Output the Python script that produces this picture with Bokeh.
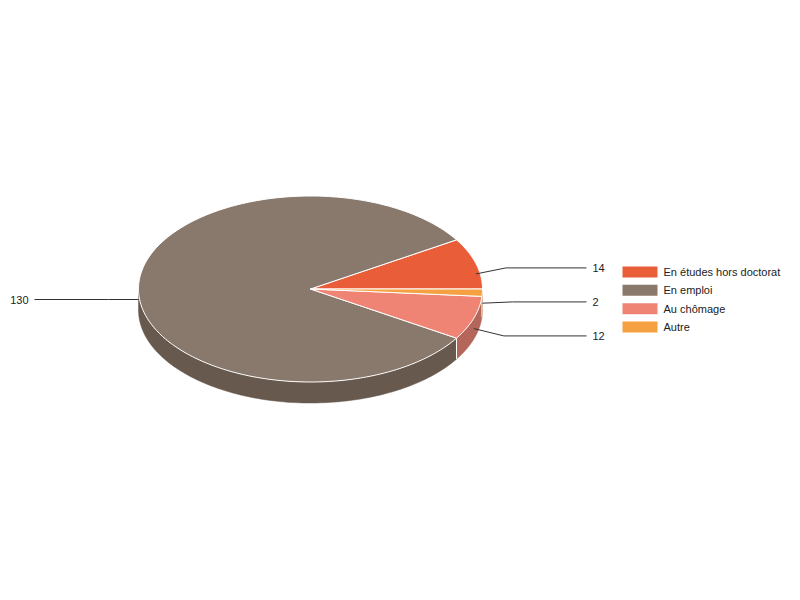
import numpy as np
from bokeh.plotting import figure
from bokeh.models import Range1d, ColumnDataSource
from bokeh.core.properties import value
from bokeh.embed import file_html
from bokeh.resources import INLINE

# ---- data ----
categories = ["En études hors doctorat", "En emploi", "Au chômage", "Autre"]
values = [14, 130, 12, 2]
top_colors = ["#e95e38", "#89796c", "#ef8475", "#f5a142"]
side_colors = ["#a3422a", "#67594e", "#b5665b", "#b57630"]

# ---- layout ----
W, H = 784, 580
CX, CY, RX, RY, DEPTH = 310.0, 288.5, 172.0, 93.0, 21.0
FONT = value("Liberation Sans")
TXT = "#222222"

p = figure(width=W, height=H, x_range=Range1d(0, W), y_range=Range1d(H, 0),
           output_backend="svg", toolbar_location=None, min_border=0,
           x_axis_location=None, y_axis_location=None, outline_line_color=None,
           background_fill_color="white", border_fill_color="white")
p.xgrid.visible = False
p.ygrid.visible = False

vals = np.array(values, dtype=float)
fr = vals / vals.sum()
ends = np.cumsum(fr) * 2 * np.pi
starts = ends - fr * 2 * np.pi


def pt(a, dz=0.0):
    a = np.asarray(a)
    return CX + RX * np.cos(a), CY - RY * np.sin(a) + dz


# sides (front half only: angles pi..2pi)
sx, sy, sc = [], [], []
for s, e, c in zip(starts, ends, side_colors):
    a0, a1 = max(s, np.pi), min(e, 2 * np.pi)
    if a1 > a0:
        t = np.linspace(a0, a1, 120)
        tx, ty = pt(t)
        bx, by = pt(t[::-1], DEPTH)
        sx.append(list(tx) + list(bx))
        sy.append(list(ty) + list(by))
        sc.append(c)
p.patches(sx, sy, fill_color=sc, line_color=sc, line_width=0.5)

# white edges between side segments
ex, ey = [], []
for s in starts:
    if np.pi < s < 2 * np.pi:
        x0, y0 = pt(s)
        x1, y1 = pt(s, DEPTH)
        ex.append([float(x0), float(x1)])
        ey.append([float(y0), float(y1)])
if ex:
    p.multi_line(ex, ey, line_color="white", line_width=1)

# top faces
px, py = [], []
for s, e in zip(starts, ends):
    t = np.linspace(s, e, max(int((e - s) / (2 * np.pi) * 360), 4))
    ax, ay = pt(t)
    px.append([CX] + list(ax))
    py.append([CY] + list(ay))
p.patches(px, py, fill_color=top_colors, line_color="white", line_width=1)

# leader labels
mids = (starts + ends) / 2
anc = [pt(m, DEPTH / 2) for m in mids]
right = [i for i in range(len(values)) if np.cos(mids[i]) >= 0]
left = [i for i in range(len(values)) if np.cos(mids[i]) < 0]


def spread(idx, gap=34.0):
    idx = sorted(idx, key=lambda i: anc[i][1])
    ys = [float(anc[i][1]) for i in idx]
    for _ in range(300):
        for k in range(len(ys) - 1):
            d = ys[k + 1] - ys[k]
            if d < gap:
                sh = (gap - d) / 2
                ys[k] -= sh
                ys[k + 1] += sh
    return dict(zip(idx, ys))


ly = {}
ly.update(spread(right))
ly.update(spread(left))

lx, lyy = [], []
for i in range(len(values)):
    ax, ay = float(anc[i][0]), float(anc[i][1])
    if i in right:
        lx.append([ax, ax + 30, CX + 276])
        p.text([CX + 282], [ly[i]], text=[str(values[i])], text_font=FONT,
               text_font_size="11px", text_color=TXT, text_baseline="middle", text_align="left")
    else:
        lx.append([ax, ax - 30, CX - 276])
        p.text([CX - 282], [ly[i]], text=[str(values[i])], text_font=FONT,
               text_font_size="11px", text_color=TXT, text_baseline="middle", text_align="right")
    lyy.append([ay, ly[i], ly[i]])
p.multi_line(lx, lyy, line_color="#333333", line_width=1)

# legend
LX, LMID, LSTEP = 622, CY + DEPTH / 2, 18.4
rows = [LMID + (k - (len(categories) - 1) / 2) * LSTEP for k in range(len(categories))]
p.rect([LX + 17.5] * len(categories), rows, width=35, height=11, fill_color=top_colors, line_color=None)
p.text([LX + 41] * len(categories), rows, text=categories, text_font=FONT,
       text_font_size="11px", text_color=TXT, text_baseline="middle", text_align="left")

open("out.html", "w").write(file_html(p, INLINE))
